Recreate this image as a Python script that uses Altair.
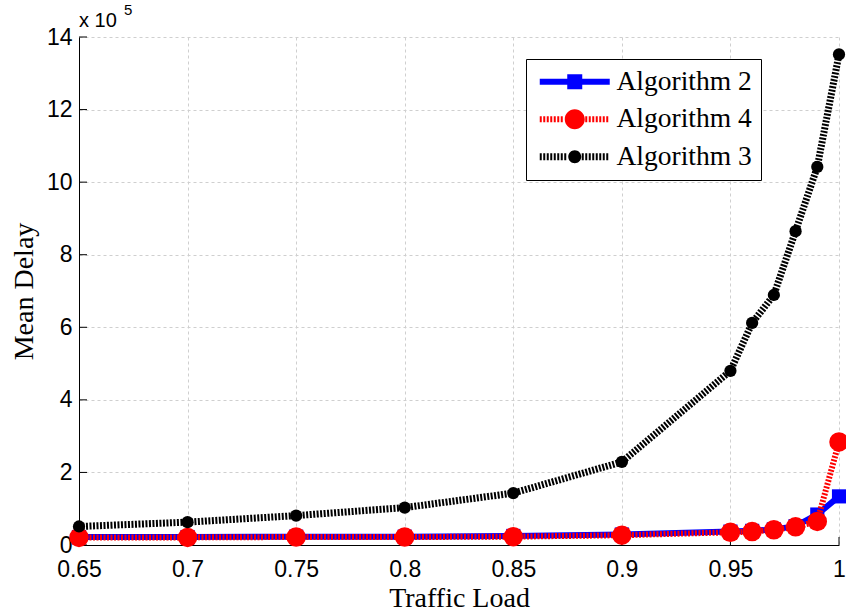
import altair as alt
import pandas as pd

# ---- data ----
traffic_load = [0.65, 0.70, 0.75, 0.80, 0.85, 0.90, 0.95, 0.96, 0.97, 0.98, 0.99, 1.00]
alg2 = [0.22, 0.22, 0.23, 0.23, 0.25, 0.29, 0.37, 0.39, 0.43, 0.52, 0.84, 1.34]
alg4 = [0.21, 0.21, 0.22, 0.22, 0.23, 0.27, 0.35, 0.37, 0.42, 0.50, 0.65, 2.84]
alg3 = [0.51, 0.63, 0.81, 1.03, 1.43, 2.29, 4.80, 6.12, 6.89, 8.65, 10.42, 13.52]

series_names = ["Algorithm 2", "Algorithm 4", "Algorithm 3"]
series_colors = ["#0000ff", "#ff0000", "#000000"]

x_ticks = [0.65, 0.7, 0.75, 0.8, 0.85, 0.9, 0.95, 1.0]
y_ticks = [0, 2, 4, 6, 8, 10, 12, 14]
exp_base = ["x 10"]
exp_power = ["5"]

x_title = "Traffic Load"
y_title = "Mean Delay"

W, H = 760, 508

rows = []
for name, vals in zip(series_names, [alg2, alg4, alg3]):
    for xv, yv in zip(traffic_load, vals):
        rows.append({"load": xv, "delay": yv, "series": name})
df = pd.DataFrame(rows)

xs = alt.Scale(domain=[0.65, 1.0], nice=False, zero=False)
ys = alt.Scale(domain=[0, 14], nice=False)

x_enc = alt.X("load:Q", scale=xs, title=x_title,
              axis=alt.Axis(values=x_ticks, format=".2~f", labelFontSize=23,
                            labelFont="Liberation Sans", labelPadding=13,
                            titleFont="Liberation Serif", titleFontSize=28,
                            titleFontWeight="normal", titlePadding=3, ticks=False,
                            labelFlush=False, labelOverlap=False))
y_enc = alt.Y("delay:Q", scale=ys, title=y_title,
              axis=alt.Axis(values=y_ticks, labelFontSize=23,
                            labelFont="Liberation Sans", labelPadding=7,
                            titleFont="Liberation Serif", titleFontSize=28,
                            titleFontWeight="normal", titlePadding=8, ticks=False,
                            labelFlush=False, labelOverlap=False))

base = alt.Chart(df)


def series_layers(name, color, dash, width, shape, size):
    d = base.transform_filter(alt.datum.series == name)
    line_kwargs = dict(color=color, strokeWidth=width)
    if dash:
        line_kwargs["strokeDash"] = dash
    line = d.mark_line(**line_kwargs).encode(x=x_enc, y=y_enc)
    pts = d.mark_point(shape=shape, filled=True, color=color, size=size,
                       opacity=1).encode(x=x_enc, y=y_enc)
    return [line, pts]


layers = []
# inward ticks
ytick_df = pd.DataFrame({"v": y_ticks})
xtick_df = pd.DataFrame({"v": x_ticks})
layers.append(alt.Chart(ytick_df).mark_rule(color="black", strokeWidth=1).encode(
    y=alt.Y("v:Q", scale=ys), x=alt.value(0), x2=alt.value(8)))
layers.append(alt.Chart(xtick_df).mark_rule(color="black", strokeWidth=1).encode(
    x=alt.X("v:Q", scale=xs), y=alt.value(H), y2=alt.value(H - 8)))

layers += series_layers("Algorithm 2", "#0000ff", None, 6, "square", 200)
layers += series_layers("Algorithm 4", "#ff0000", [2, 1.5], 6, "circle", 380)
layers += series_layers("Algorithm 3", "#000000", [2, 1.5], 7, "circle", 150)


# ---- legend symbols as filled paths (units: 1 = 10 px) ----
def rect(x0, x1, h):
    return f"M{x0:.3f},{-h:.3f} L{x1:.3f},{-h:.3f} L{x1:.3f},{h:.3f} L{x0:.3f},{h:.3f} Z "


def circ(r):
    return f"M{-r},0 A{r},{r} 0 1,1 {r},0 A{r},{r} 0 1,1 {-r},0 Z "


def dashed(h, skip):
    out = ""
    x = -3.5
    while x < 3.5:
        x1 = min(x + 0.2, 3.5)
        if abs((x + x1) / 2) > skip:
            out += rect(x, x1, h)
        x += 0.35
    return out


paths = [
    rect(-3.5, -0.75, 0.3) + rect(0.75, 3.5, 0.3) + rect(-0.75, 0.75, 0.75),
    dashed(0.3, 1.0) + circ(1.0),
    dashed(0.35, 0.65) + circ(0.65),
]
legend = alt.Legend(title=None, orient="none", legendX=447, legendY=22,
                    labelFont="Liberation Serif", labelFontSize=27.5,
                    labelColor="black", symbolSize=400, symbolStrokeWidth=0,
                    symbolOffset=26, labelOffset=28, rowPadding=8.5,
                    padding=9, strokeColor="black", fillColor="white",
                    symbolOpacity=1, labelLimit=0,
                    labelExpr="datum.label + '\u2007\u2007'")
leg = base.transform_filter("false").mark_point(filled=True, strokeWidth=0, opacity=1).encode(
    x=alt.X("load:Q", scale=xs), y=alt.Y("delay:Q", scale=ys),
    fill=alt.Fill("series:N", scale=alt.Scale(domain=series_names, range=series_colors), legend=legend),
    shape=alt.Shape("series:N", scale=alt.Scale(domain=series_names, range=paths), legend=legend),
)
layers.append(leg)

# exponent label
layers.append(alt.Chart(pd.DataFrame({"t": exp_base})).mark_text(
    align="left", baseline="alphabetic", font="Liberation Sans", fontSize=20, color="black"
).encode(text="t:N", x=alt.value(0), y=alt.value(-10)))
layers.append(alt.Chart(pd.DataFrame({"t": exp_power})).mark_text(
    align="left", baseline="alphabetic", font="Liberation Sans", fontSize=15, color="black"
).encode(text="t:N", x=alt.value(45), y=alt.value(-22)))

chart = alt.layer(*layers).properties(
    width=W, height=H,
    autosize=alt.AutoSizeParams(type="none"),
    padding={"left": 79, "top": 37, "right": 7, "bottom": 68},
    background="white",
).configure_view(stroke=None).configure_axis(
    domainColor="black", domainWidth=1, labelColor="black", titleColor="black",
    gridColor="#cfcfcf", gridDash=[3, 3], gridWidth=1,
).configure_legend(symbolStrokeWidth=0)

chart.save("out.html", embed_options={"renderer": "svg", "actions": False})
